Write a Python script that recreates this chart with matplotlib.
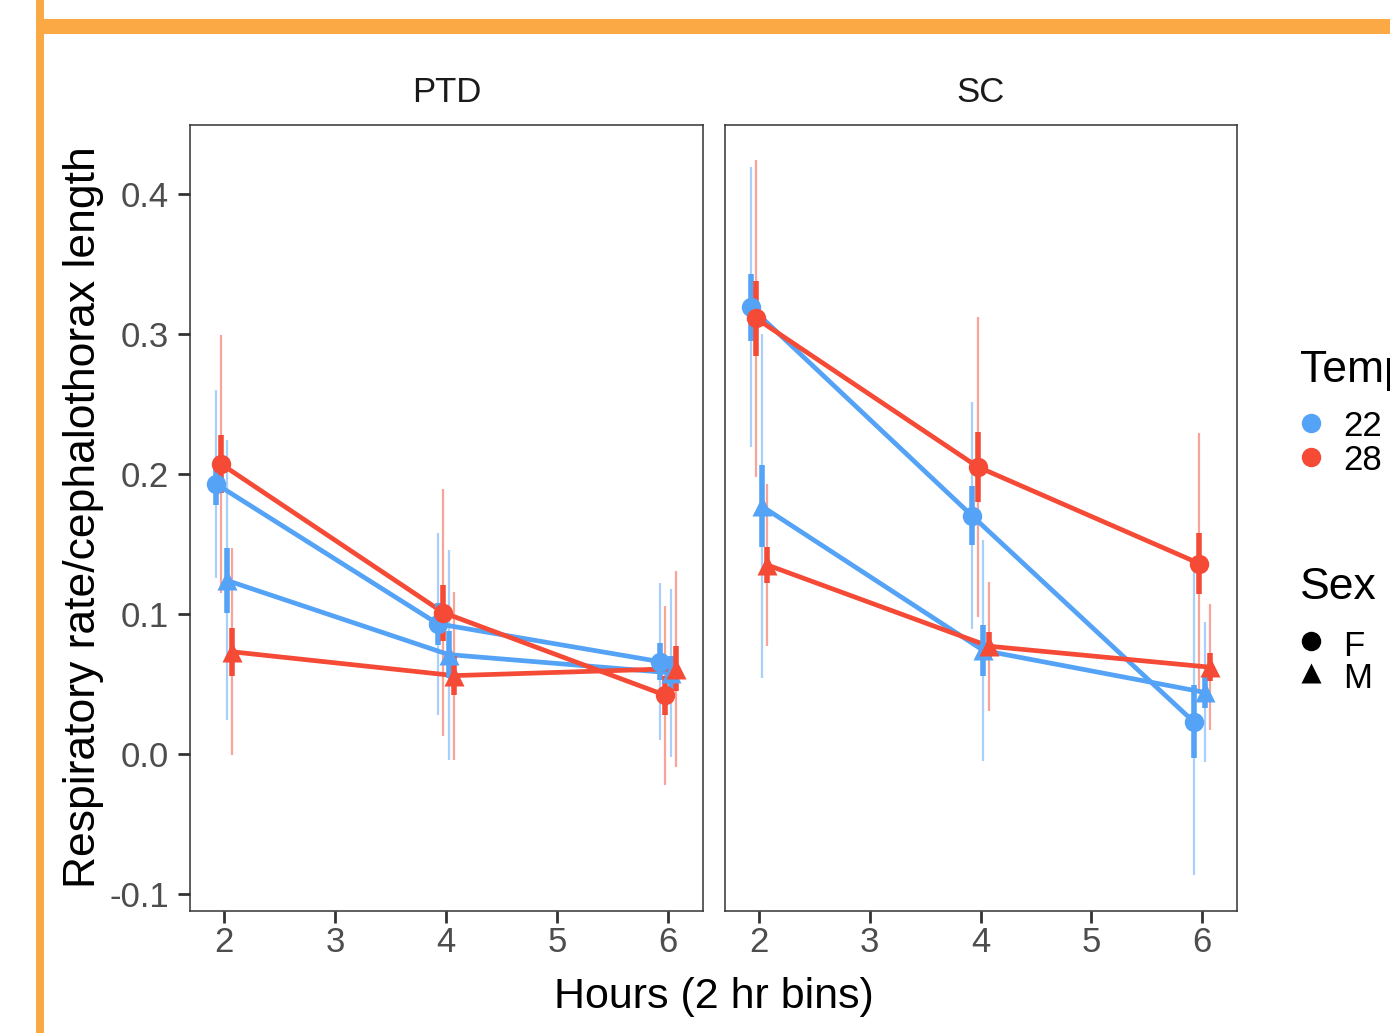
import numpy as np
import matplotlib
matplotlib.use("Agg")
import matplotlib.pyplot as plt
from matplotlib.lines import Line2D
from matplotlib.patches import Rectangle

plt.rcParams['font.family'] = ['Liberation Sans', 'DejaVu Sans']

# Mean respiratory rate / cephalothorax length per 2 hr bin
hours = [2, 4, 6]
panels = ['PTD', 'SC']
temps = ['22', '28']
sexes = ['F', 'M']

# mean, inner interval (thick bar) and outer interval (thin bar) half-widths
ptd_22F_mean = [0.193, 0.093, 0.066]
ptd_22F_inner = [0.015, 0.015, 0.013]
ptd_22F_outer = [0.067, 0.065, 0.056]
ptd_28F_mean = [0.207, 0.101, 0.042]
ptd_28F_inner = [0.021, 0.020, 0.014]
ptd_28F_outer = [0.092, 0.088, 0.064]
ptd_22M_mean = [0.124, 0.071, 0.058]
ptd_22M_inner = [0.023, 0.017, 0.012]
ptd_22M_outer = [0.100, 0.075, 0.060]
ptd_28M_mean = [0.073, 0.056, 0.061]
ptd_28M_inner = [0.017, 0.014, 0.016]
ptd_28M_outer = [0.074, 0.060, 0.070]

sc_22F_mean = [0.319, 0.170, 0.023]
sc_22F_inner = [0.024, 0.021, 0.026]
sc_22F_outer = [0.100, 0.081, 0.109]
sc_28F_mean = [0.311, 0.205, 0.136]
sc_28F_inner = [0.027, 0.025, 0.022]
sc_28F_outer = [0.113, 0.107, 0.093]
sc_22M_mean = [0.177, 0.074, 0.044]
sc_22M_inner = [0.029, 0.018, 0.011]
sc_22M_outer = [0.123, 0.079, 0.050]
sc_28M_mean = [0.135, 0.077, 0.062]
sc_28M_inner = [0.013, 0.010, 0.010]
sc_28M_outer = [0.058, 0.046, 0.045]

data = {
    ('PTD', '22', 'F'): (ptd_22F_mean, ptd_22F_inner, ptd_22F_outer),
    ('PTD', '28', 'F'): (ptd_28F_mean, ptd_28F_inner, ptd_28F_outer),
    ('PTD', '22', 'M'): (ptd_22M_mean, ptd_22M_inner, ptd_22M_outer),
    ('PTD', '28', 'M'): (ptd_28M_mean, ptd_28M_inner, ptd_28M_outer),
    ('SC', '22', 'F'): (sc_22F_mean, sc_22F_inner, sc_22F_outer),
    ('SC', '28', 'F'): (sc_28F_mean, sc_28F_inner, sc_28F_outer),
    ('SC', '22', 'M'): (sc_22M_mean, sc_22M_inner, sc_22M_outer),
    ('SC', '28', 'M'): (sc_28M_mean, sc_28M_inner, sc_28M_outer),
}

colors = {'22': '#54A3F6', '28': '#F44A36'}
markers = {'F': 'o', 'M': '^'}
msize = {'F': 14, 'M': 15}
# dodge order: 22F, 28F, 22M, 28M
dodge = {('22', 'F'): -0.075, ('28', 'F'): -0.025,
         ('22', 'M'): 0.025, ('28', 'M'): 0.075}

W, H = 1390, 1033
fig = plt.figure(figsize=(W / 100, H / 100), dpi=100)


def fx(x):
    return x / W


def fy(y):
    return 1 - y / H


axes_px = {'PTD': (190, 703), 'SC': (725, 1237)}
top_px, bot_px = 125, 911

for i, panel in enumerate(panels):
    x0, x1 = axes_px[panel]
    ax = fig.add_axes([fx(x0), fy(bot_px), fx(x1) - fx(x0), fy(top_px) - fy(bot_px)])
    for temp in temps:
        for sex in sexes:
            mean, inner, outer = [np.array(v) for v in data[(panel, temp, sex)]]
            xs = np.array(hours) + dodge[(temp, sex)]
            c = colors[temp]
            ax.vlines(xs, mean - outer, mean + outer, color=c, alpha=0.5, lw=1.6, zorder=1)
            ax.plot(xs, mean, color=c, lw=3.4, zorder=2, solid_capstyle='butt')
            ax.vlines(xs, mean - inner, mean + inner, color=c, lw=4, zorder=3)
            ax.plot(xs, mean, ls='none', marker=markers[sex], ms=msize[sex],
                    color=c, mec='none', zorder=4)
    ax.set_xlim(1.694, 6.315)
    ax.set_ylim(-0.112, 0.449)
    ax.set_xticks([2, 3, 4, 5, 6])
    ax.set_yticks([-0.1, 0.0, 0.1, 0.2, 0.3, 0.4])
    ax.set_yticklabels(['-0.1', '0.0', '0.1', '0.2', '0.3', '0.4'])
    ax.tick_params(axis='both', length=8.6, width=2, color='#333333',
                   labelsize=25, labelcolor='#4D4D4D')
    ax.tick_params(axis='x', pad=2.5)
    ax.tick_params(axis='y', pad=6.5)
    if i > 0:
        ax.tick_params(axis='y', left=False, labelleft=False)
    for s in ax.spines.values():
        s.set_color('#333333')
        s.set_linewidth(1.1)
    ax.set_title(panel, fontsize=25, pad=16.5, color='#1A1A1A')

# axis titles
fig.text(fx(714), fy(1008), 'Hours (2 hr bins)', fontsize=31, ha='center', va='baseline')
fig.text(fx(95), fy(517), 'Respiratory rate/cephalothorax length', fontsize=32,
         rotation=90, rotation_mode='anchor', ha='center', va='baseline')

# legends
fig.text(fx(1300), fy(382), 'Temp', fontsize=32, ha='left', va='baseline')
for temp, yk in zip(temps, [423, 457]):
    fig.add_artist(Line2D([fx(1311)], [fy(yk)], marker='o', ms=14, color=colors[temp],
                          mec='none', transform=fig.transFigure))
    fig.text(fx(1343), fy(yk + 13), temp, fontsize=25, ha='left', va='baseline')

fig.text(fx(1300), fy(599), 'Sex', fontsize=32, ha='left', va='baseline')
for sex, yk in zip(sexes, [641, 673]):
    fig.add_artist(Line2D([fx(1311)], [fy(yk)], marker=markers[sex], ms=msize[sex],
                          color='black', mec='none', transform=fig.transFigure))
    fig.text(fx(1343), fy(yk + 15), sex, fontsize=25, ha='left', va='baseline')

# orange frame
fig.add_artist(Rectangle((fx(36), fy(34)), 1 - fx(36), fy(19) - fy(34),
                         transform=fig.transFigure, color='#FBA945', lw=0))
fig.add_artist(Rectangle((fx(36), 0), fx(44) - fx(36), 1,
                         transform=fig.transFigure, color='#FBA945', lw=0))

fig.savefig('out.png', dpi=100)
